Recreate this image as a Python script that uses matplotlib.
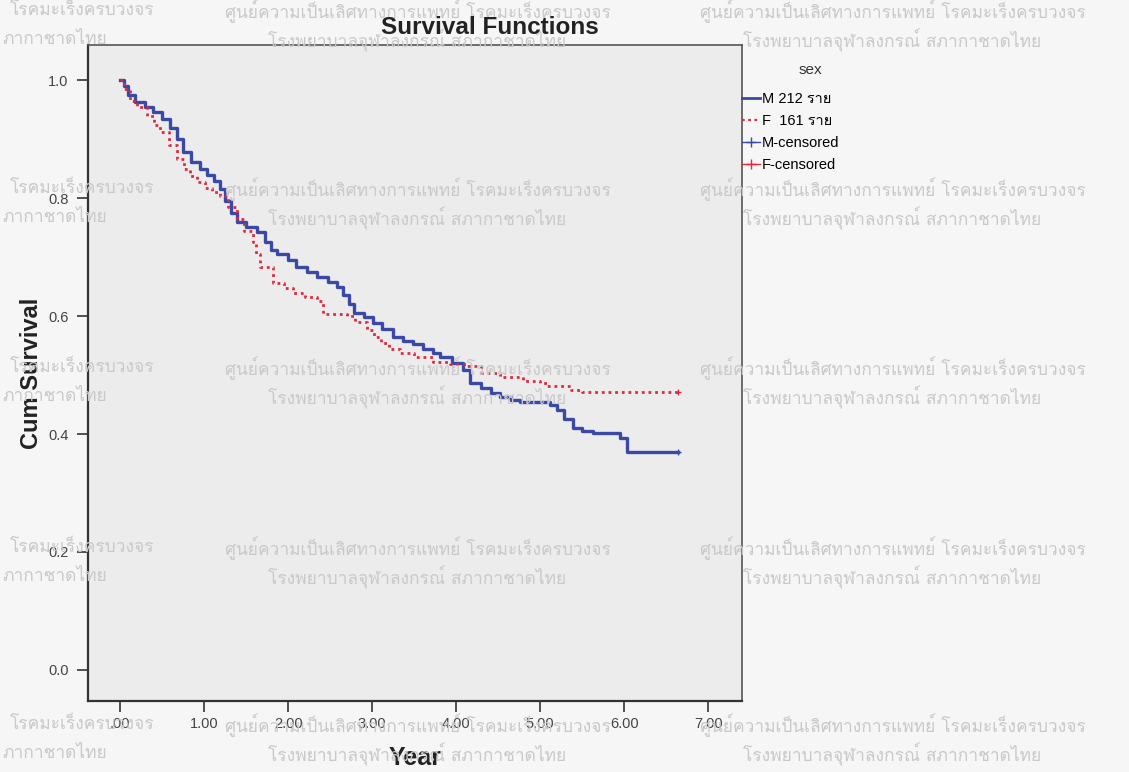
import matplotlib
matplotlib.use('Agg')
from matplotlib import pyplot as plt
from matplotlib.lines import Line2D
from matplotlib import font_manager

# Kaplan-Meier steps (time in years, cum survival)
m_time = [0.0, 0.05, 0.1, 0.18, 0.3, 0.39, 0.5, 0.6, 0.68, 0.75, 0.85, 0.95,
          1.03, 1.12, 1.19, 1.25, 1.32, 1.39, 1.5, 1.63, 1.72, 1.8, 1.87, 2.0,
          2.1, 2.22, 2.35, 2.47, 2.58, 2.65, 2.72, 2.78, 2.9, 3.01, 3.12, 3.25,
          3.37, 3.49, 3.6, 3.72, 3.81, 3.95, 4.08, 4.17, 4.3, 4.42, 4.52, 4.65,
          4.76, 5.12, 5.2, 5.28, 5.39, 5.5, 5.63, 5.95, 6.03, 6.64]
m_surv = [1.0, 0.99, 0.975, 0.963, 0.955, 0.947, 0.935, 0.92, 0.9, 0.878, 0.862, 0.85,
          0.84, 0.83, 0.815, 0.795, 0.775, 0.759, 0.752, 0.742, 0.725, 0.712, 0.705, 0.695,
          0.684, 0.675, 0.667, 0.658, 0.65, 0.635, 0.62, 0.606, 0.598, 0.589, 0.578, 0.565,
          0.558, 0.552, 0.545, 0.537, 0.531, 0.52, 0.509, 0.487, 0.478, 0.47, 0.462, 0.457,
          0.455, 0.45, 0.44, 0.425, 0.41, 0.405, 0.402, 0.394, 0.37, 0.37]

f_time = [0.0, 0.05, 0.12, 0.2, 0.32, 0.4, 0.48, 0.58, 0.68, 0.76, 0.83, 0.92,
          1.01, 1.1, 1.19, 1.28, 1.39, 1.47, 1.58, 1.62, 1.67, 1.82, 1.95, 2.06,
          2.2, 2.35, 2.42, 2.7, 2.8, 2.94, 3.02, 3.1, 3.2, 3.33, 3.5, 3.73,
          3.93, 4.13, 4.29, 4.52, 4.8, 5.0, 5.08, 5.36, 5.5, 6.64]
f_surv = [1.0, 0.985, 0.965, 0.955, 0.94, 0.925, 0.913, 0.89, 0.866, 0.85, 0.837, 0.828,
          0.818, 0.81, 0.803, 0.785, 0.764, 0.745, 0.725, 0.705, 0.684, 0.657, 0.648, 0.64,
          0.632, 0.625, 0.603, 0.6, 0.59, 0.577, 0.565, 0.555, 0.545, 0.538, 0.53, 0.523,
          0.518, 0.515, 0.504, 0.496, 0.49, 0.487, 0.481, 0.475, 0.472, 0.472]

m_cens_time = [6.64]
m_cens_surv = [0.37]
f_cens_time = [6.64]
f_cens_surv = [0.472]

x_ticks = [0, 1, 2, 3, 4, 5, 6, 7]
x_labels = ['.00', '1.00', '2.00', '3.00', '4.00', '5.00', '6.00', '7.00']
y_ticks = [0.0, 0.2, 0.4, 0.6, 0.8, 1.0]
y_labels = ['0.0', '0.2', '0.4', '0.6', '0.8', '1.0']

legend_labels = ['M 212 ราย', 'F  161 ราย', 'M-censored', 'F-censored']

wm_line1 = 'ศูนย์ความเป็นเลิศทางการแพทย์ โรคมะเร็งครบวงจร'
wm_line2 = 'โรงพยาบาลจุฬาลงกรณ์ สภากาชาดไทย'
# the parts of the watermark that show at the left edge
wm_left1 = 'โรคมะเร็งครบวงจร'
wm_left2 = 'ภากาชาดไทย'

# look for a font that can draw Thai
thai_font = None
for f in font_manager.fontManager.ttflist:
    if 'thai' in f.name.lower() or f.name in ('Loma', 'Garuda', 'Norasi', 'Kinnari', 'Sawasdee', 'Umpush', 'Waree'):
        thai_font = f.name
        break
fam = ['Liberation Sans', 'DejaVu Sans']
if thai_font:
    fam = ['Liberation Sans', thai_font, 'DejaVu Sans']
plt.rcParams['font.family'] = fam
wm_fam = [thai_font or 'DejaVu Sans', 'DejaVu Sans']

blue = '#3a48a6'
red = '#e2283e'
wm_color = '#c9c9c9'


def draw():
    fig = plt.figure(figsize=(11.29, 7.72), dpi=100, facecolor='#f6f6f6')
    ax = fig.add_axes([88 / 1129, 1 - 701 / 772, 654 / 1129, 656 / 772])
    ax.set_facecolor('#ececec')

    # watermark grid
    for row in [11, 189, 368, 548, 725]:
        fig.text(10 / 1129, 1 - row / 772, wm_left1, fontsize=12.5, color=wm_color,
                 va='center', ha='left', zorder=0.5, family=wm_fam)
        fig.text(2 / 1129, 1 - (row + 29) / 772, wm_left2, fontsize=12.5, color=wm_color,
                 va='center', ha='left', zorder=0.5, family=wm_fam)
        for col in [225, 700]:
            fig.text(col / 1129, 1 - row / 772, wm_line1, fontsize=12.5, color=wm_color,
                     va='center', ha='left', zorder=0.5, family=wm_fam)
            fig.text((col + 43) / 1129, 1 - (row + 29) / 772, wm_line2, fontsize=12.5,
                     color=wm_color, va='center', ha='left', zorder=0.5, family=wm_fam)

    ax.step(m_time, m_surv, where='post', color=blue, lw=2.4, zorder=3)
    ax.step(f_time, f_surv, where='post', color=red, lw=2.0, ls=(0, (1.0, 1.4)), zorder=3)
    ax.plot(m_cens_time, m_cens_surv, '+', color=blue, ms=5, mew=1, zorder=4)
    ax.plot(f_cens_time, f_cens_surv, '+', color=red, ms=5, mew=1, zorder=4)

    ax.set_xlim(-0.38, 7.4)
    ax.set_ylim(-0.053, 1.06)
    ax.set_xticks(x_ticks)
    ax.set_xticklabels(x_labels)
    ax.set_yticks(y_ticks)
    ax.set_yticklabels(y_labels)
    ax.tick_params(direction='out', length=8, width=1.2, color='#333333',
                   labelsize=10.5, labelcolor='#444444')
    ax.tick_params(axis='y', pad=6)
    for s in ['left', 'bottom']:
        ax.spines[s].set_linewidth(1.6)
        ax.spines[s].set_color('#333333')
    for s in ['top', 'right']:
        ax.spines[s].set_linewidth(1.2)
        ax.spines[s].set_color('#555555')

    ax.set_xlabel('Year', fontsize=18, fontweight='bold', color='#222222', labelpad=11)
    ax.set_ylabel('Cum Survival', fontsize=17, fontweight='bold', color='#222222', labelpad=4)
    fig.text(490 / 1129, 1 - 27 / 772, 'Survival Functions', fontsize=17.5, fontweight='bold',
             color='#222222', ha='center', va='center')

    # legend title sits well above the entries, as in SPSS
    fig.text(810 / 1129, 1 - 70 / 772, 'sex', fontsize=11, color='#333333',
             ha='center', va='center')
    handles = [Line2D([], [], color=blue, lw=2),
               Line2D([], [], color=red, lw=1.6, ls=(0, (1.2, 1.6))),
               Line2D([], [], color=blue, lw=1, marker='+', ms=7),
               Line2D([], [], color=red, lw=1, marker='+', ms=7)]
    fig.legend(handles, legend_labels, loc='upper left',
               bbox_to_anchor=(742 / 1129, 1 - 92 / 772), frameon=False, borderpad=0,
               borderaxespad=0, handlelength=1.25, handletextpad=0.1,
               labelspacing=0.55, prop={'family': fam, 'size': 10.5})
    plt.savefig('out.png', dpi=100, facecolor=fig.get_facecolor())


draw()
